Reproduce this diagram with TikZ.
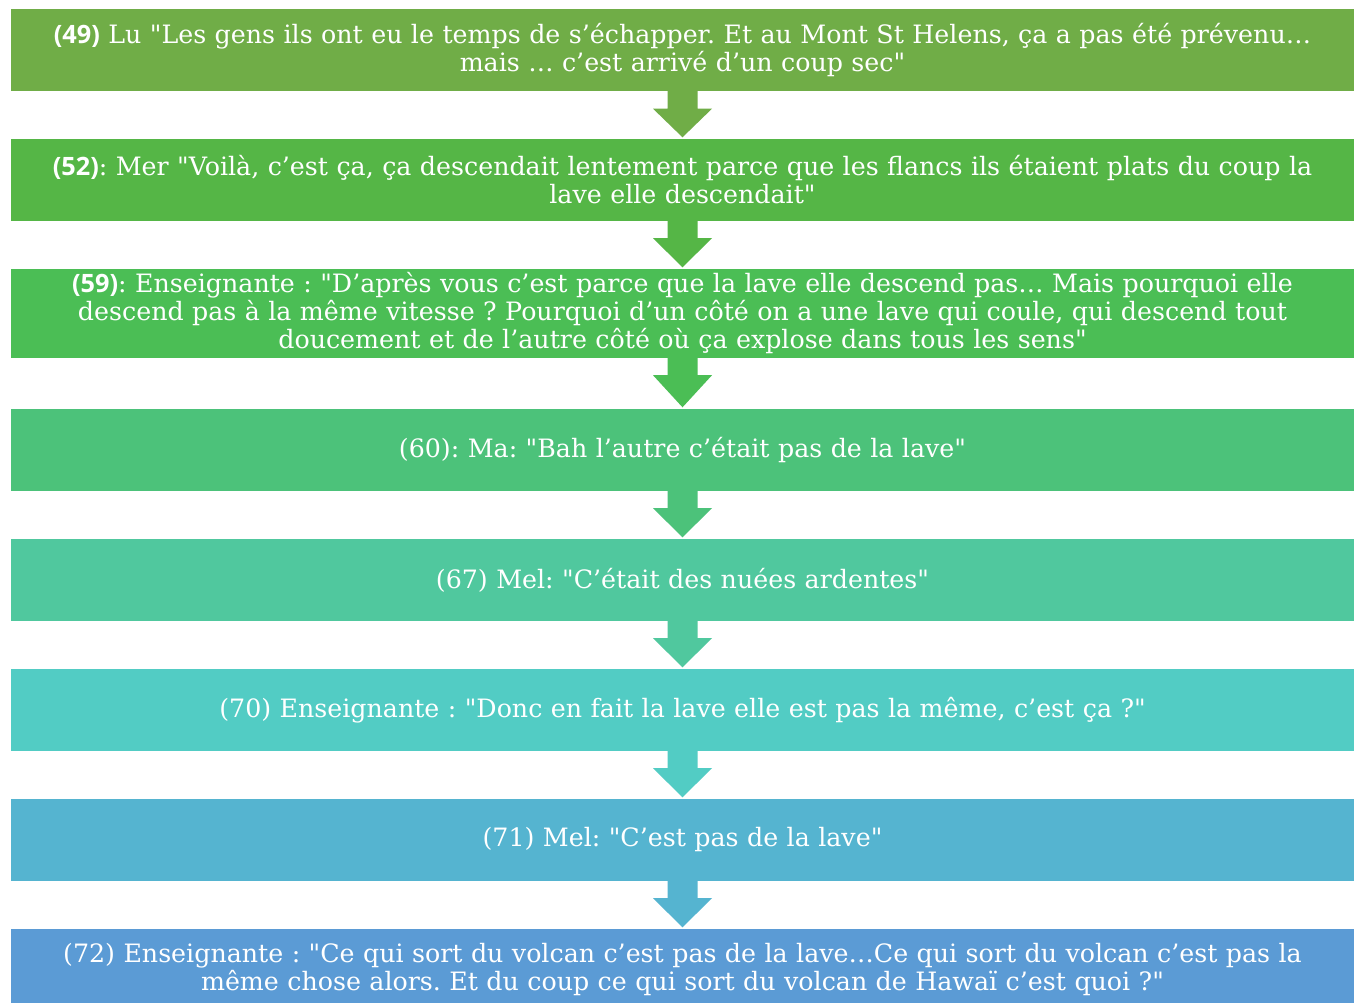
\documentclass[tikz,border=0pt]{standalone}
\usepackage{fontspec}
\setmainfont{DejaVu Serif}[Ligatures=TeXOff]
\newfontfamily\numfont{Open Sans}
\usetikzlibrary{calc}
\definecolor{c1}{HTML}{70AD47}
\definecolor{c2}{HTML}{55B646}
\definecolor{c3}{HTML}{4BBE55}
\definecolor{c4}{HTML}{4CC27A}
\definecolor{c5}{HTML}{50C89E}
\definecolor{c6}{HTML}{52CCC4}
\definecolor{c7}{HTML}{55B4D0}
\definecolor{c8}{HTML}{5B9BD5}
\newcommand{\nb}[1]{{\numfont\bfseries #1}}
\newcommand{\flowarrow}[3]{%
  \fill[#3] ($(#1.south)+(-15,0.5)$) -- ($(#1.south)+(15,0.5)$) -- ($(#1.south)+(15,-17)$)
    -- ($(#1.south)+(29.5,-17)$) -- ($(#2.north)+(0,1.5)$) -- ($(#1.south)+(-29.5,-17)$)
    -- ($(#1.south)+(-15,-17)$) -- cycle;}
\begin{document}
\frenchspacing
\begin{tikzpicture}[x=1pt,y=1pt,
  box/.style={rectangle, inner sep=0pt, minimum width=1343pt, minimum height=82pt,
    text width=1320pt, align=center, text=white,
    font=\frenchspacing\fontsize{25.3}{28}\selectfont}]
\clip (0,0) rectangle (1360,-1003);
\fill[white] (0,0) rectangle (1360,-1003);
\node[box, fill=c1] (b1) at (682.5,-50.5) {\nb{(49)} Lu "Les gens ils ont eu le temps de s’échapper. Et au Mont St Helens, ça a pas été prévenu…\\ mais … c’est arrivé d’un coup sec"};
\node[box, fill=c2] (b2) at (682.5,-180) {\nb{(52)}: Mer "Voilà, c’est ça, ça descendait lentement parce que les flancs ils étaient plats du coup la\\ lave elle descendait"};
\node[box, fill=c3, minimum height=89pt] (b3) at (682.5,-313.5) {\nb{(59)}: Enseignante : "D’après vous c’est parce que la lave elle descend pas… Mais pourquoi elle\\ descend pas à la même vitesse ? Pourquoi d’un côté on a une lave qui coule, qui descend tout\\ doucement et de l’autre côté où ça explose dans tous les sens"};
\node[box, fill=c4] (b4) at (682.5,-450) {(60): Ma: "Bah l’autre c’était pas de la lave"};
\node[box, fill=c5] (b5) at (682.5,-580) {(67) Mel: "C’était des nuées ardentes"};
\node[box, fill=c6] (b6) at (682.5,-710) {(70) Enseignante : "Donc en fait la lave elle est pas la même, c’est ça ?"};
\node[box, fill=c7] (b7) at (682.5,-840) {(71) Mel: "C’est pas de la lave"};
\node[box, fill=c8] (b8) at (682.5,-970) {(72) Enseignante : "Ce qui sort du volcan c’est pas de la lave…Ce qui sort du volcan c’est pas la\\ même chose alors. Et du coup ce qui sort du volcan de Hawaï c’est quoi ?"};
\flowarrow{b1}{b2}{c1}
\flowarrow{b2}{b3}{c2}
\flowarrow{b3}{b4}{c3}
\flowarrow{b4}{b5}{c4}
\flowarrow{b5}{b6}{c5}
\flowarrow{b6}{b7}{c6}
\flowarrow{b7}{b8}{c7}
\end{tikzpicture}
\end{document}
